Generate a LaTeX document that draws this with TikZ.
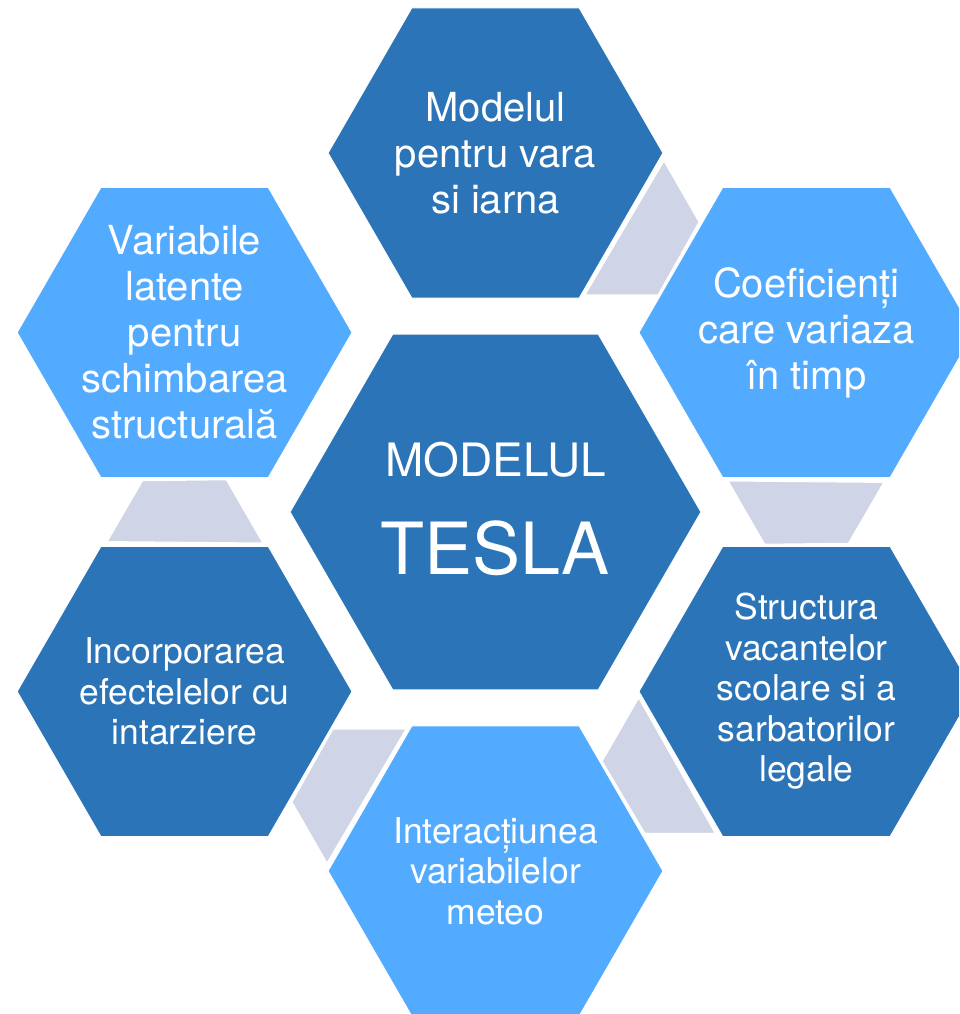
\documentclass[tikz,border=0pt]{standalone}
\usepackage{fontspec}
\setmainfont{TeX Gyre Heros}
\usetikzlibrary{shapes.geometric}
\definecolor{hexdark}{RGB}{43,116,183}
\definecolor{hexlight}{RGB}{82,171,255}
\definecolor{linkgray}{RGB}{207,213,230}
\tikzset{hex/.style = {regular polygon, regular polygon sides = 6, inner sep = 0, outer sep = 0, draw = white, line width = 1, minimum size = 335}}
\tikzset{bighex/.style = {hex, minimum size = 411}}
\tikzset{link/.style = {fill = linkgray, draw = white, line width = 1}}
\tikzset{txt/.style = {text = white, align = center, inner sep = 0, font = \fontsize{40}{46}\selectfont}}
\tikzset{smalltxt/.style = {txt, font = \fontsize{35.5}{40.5}\selectfont}}

\begin{document}
\begin{tikzpicture}[x = 1pt, y = 1pt]

      \clip (-495.5, -502) rectangle (463.5, 512);

      \foreach \k in {0, ..., 4}
        \draw [link, rotate = -60 * \k] (168.5, 351) -- (203.5, 290) -- (162.5, 217) -- (89.5, 217) -- cycle;

      \node [bighex, fill = hexdark] (0) at (0, 0) {};
      \node [hex, fill = hexdark] (1) at (90:359) {};
      \node [hex, fill = hexlight] (2) at (30:359) {};
      \node [hex, fill = hexdark] (3) at (-30:359) {};
      \node [hex, fill = hexlight] (4) at (-90:359) {};
      \node [hex, fill = hexdark] (5) at (210:359) {};
      \node [hex, fill = hexlight] (6) at (150:359) {};

      \node [txt, anchor = base, font = \fontsize{46}{50}\selectfont] (t0a) at (0, 35) {MODELUL};
      \node [txt, anchor = base, font = \fontsize{72}{80}\selectfont] (t0b) at (0, -63) {TESLA};
      \node [txt] (t1) at (1) {Modelul\\pentru vara\\si iarna};
      \node [txt] (t2) at (2) {Coeficienți\\care variaza\\în timp};
      \node [smalltxt] (t3) at (3) {Structura\\vacantelor\\scolare si a\\sarbatorilor\\legale};
      \node [smalltxt] (t4) at (4) {Interacțiunea\\variabilelor\\meteo};
      \node [smalltxt] (t5) at (5) {Incorporarea\\efectelelor cu\\intarziere};
      \node [txt] (t6) at (6) {Variabile\\latente\\pentru\\schimbarea\\structurală};
    \end{tikzpicture}
\end{document}
